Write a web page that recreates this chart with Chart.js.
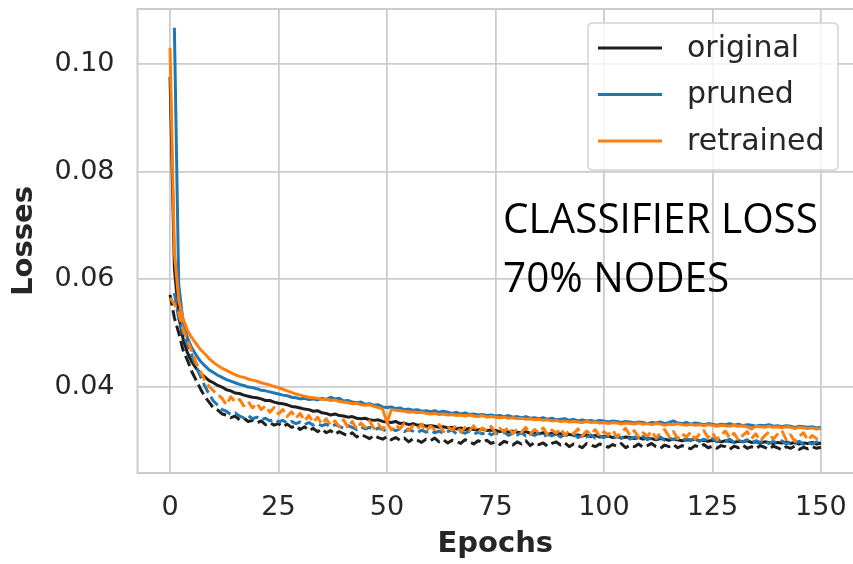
<!DOCTYPE html>
<html>
<head>
<meta charset="utf-8">
<title>Classifier loss, 70% nodes</title>
<script src="https://cdn.jsdelivr.net/npm/chart.js@4.4.1/dist/chart.umd.min.js"></script>
<style>
  html, body { margin: 0; padding: 0; background: #ffffff; }
  #wrap { position: relative; width: 853px; height: 564px; }
</style>
</head>
<body>
<div id="wrap"><canvas id="chart" width="853" height="564"></canvas></div>
<script>
// ---- data -------------------------------------------------------------
const epochs = Array.from({ length: 151 }, (_, i) => i);

const seriesNames = ['original', 'pruned', 'retrained'];
const seriesColors = ['#1f1f1f', '#1f77b4', '#ff7f0e'];

const xTicks = [0, 25, 50, 75, 100, 125, 150];
const yTicks = [0.04, 0.06, 0.08, 0.10];

const noteLines = ['CLASSIFIER LOSS', '70% NODES'];

// training loss (solid lines)
const originalTrain = [
  0.0977, 0.0620, 0.0531, 0.0489, 0.0463, 0.0446, 0.0434, 0.0425, 0.0418, 0.0411,
  0.0407, 0.0402, 0.0399, 0.0394, 0.0392, 0.0388, 0.0387, 0.0384, 0.0382, 0.0380,
  0.0379, 0.0377, 0.0374, 0.0374, 0.0371, 0.0369, 0.0368, 0.0366, 0.0363, 0.0362,
  0.0360, 0.0358, 0.0357, 0.0354, 0.0355, 0.0351, 0.0350, 0.0347, 0.0349, 0.0346,
  0.0345, 0.0343, 0.0344, 0.0341, 0.0340, 0.0341, 0.0338, 0.0337, 0.0338, 0.0335,
  0.0334, 0.0333, 0.0335, 0.0331, 0.0332, 0.0329, 0.0331, 0.0328, 0.0329, 0.0326,
  0.0327, 0.0326, 0.0324, 0.0325, 0.0323, 0.0324, 0.0321, 0.0323, 0.0320, 0.0322,
  0.0320, 0.0319, 0.0321, 0.0318, 0.0319, 0.0318, 0.0316, 0.0318, 0.0315, 0.0317,
  0.0315, 0.0314, 0.0316, 0.0313, 0.0314, 0.0312, 0.0314, 0.0311, 0.0313, 0.0311,
  0.0312, 0.0310, 0.0311, 0.0309, 0.0310, 0.0308, 0.0310, 0.0307, 0.0309, 0.0306,
  0.0307, 0.0308, 0.0305, 0.0307, 0.0304, 0.0306, 0.0305, 0.0303, 0.0305, 0.0302,
  0.0304, 0.0303, 0.0301, 0.0303, 0.0302, 0.0300, 0.0302, 0.0301, 0.0299, 0.0301,
  0.0300, 0.0302, 0.0299, 0.0300, 0.0298, 0.0300, 0.0299, 0.0297, 0.0299, 0.0298,
  0.0296, 0.0298, 0.0297, 0.0299, 0.0296, 0.0297, 0.0295, 0.0297, 0.0296, 0.0294,
  0.0296, 0.0295, 0.0297, 0.0294, 0.0296, 0.0293, 0.0295, 0.0294, 0.0296, 0.0293,
  0.0295
];

const prunedTrain = [
  null,   0.1068, 0.0590, 0.0521, 0.0491, 0.0472, 0.0459, 0.0447, 0.0439, 0.0431,
  0.0426, 0.0421, 0.0417, 0.0413, 0.0410, 0.0407, 0.0404, 0.0402, 0.0399, 0.0398,
  0.0396, 0.0393, 0.0392, 0.0390, 0.0388, 0.0386, 0.0384, 0.0383, 0.0380, 0.0379,
  0.0377, 0.0378, 0.0376, 0.0377, 0.0375, 0.0378, 0.0376, 0.0380, 0.0377, 0.0378,
  0.0373, 0.0374, 0.0371, 0.0370, 0.0371, 0.0367, 0.0368, 0.0365, 0.0366, 0.0362,
  0.0361, 0.0362, 0.0359, 0.0360, 0.0357, 0.0358, 0.0356, 0.0357, 0.0354, 0.0355,
  0.0353, 0.0355, 0.0352, 0.0354, 0.0352, 0.0350, 0.0352, 0.0349, 0.0351, 0.0348,
  0.0349, 0.0347, 0.0348, 0.0346, 0.0347, 0.0345, 0.0346, 0.0344, 0.0346, 0.0343,
  0.0344, 0.0342, 0.0344, 0.0341, 0.0342, 0.0340, 0.0342, 0.0339, 0.0341, 0.0338,
  0.0339, 0.0340, 0.0337, 0.0339, 0.0336, 0.0338, 0.0336, 0.0337, 0.0335, 0.0337,
  0.0336, 0.0334, 0.0336, 0.0335, 0.0333, 0.0335, 0.0334, 0.0332, 0.0334, 0.0333,
  0.0331, 0.0333, 0.0332, 0.0334, 0.0331, 0.0333, 0.0336, 0.0332, 0.0331, 0.0333,
  0.0330, 0.0332, 0.0331, 0.0329, 0.0331, 0.0330, 0.0328, 0.0330, 0.0329, 0.0331,
  0.0328, 0.0330, 0.0327, 0.0329, 0.0328, 0.0326, 0.0328, 0.0327, 0.0329, 0.0326,
  0.0327, 0.0325, 0.0327, 0.0326, 0.0324, 0.0326, 0.0325, 0.0324, 0.0325, 0.0323,
  0.0324
];

const retrainedTrain = [
  0.1031, 0.0650, 0.0561, 0.0526, 0.0505, 0.0491, 0.0480, 0.0469, 0.0461, 0.0452,
  0.0445, 0.0439, 0.0434, 0.0430, 0.0426, 0.0422, 0.0419, 0.0417, 0.0414, 0.0412,
  0.0410, 0.0407, 0.0405, 0.0403, 0.0400, 0.0398, 0.0395, 0.0392, 0.0389, 0.0386,
  0.0384, 0.0382, 0.0380, 0.0379, 0.0378, 0.0376, 0.0377, 0.0374, 0.0375, 0.0372,
  0.0371, 0.0370, 0.0368, 0.0369, 0.0366, 0.0365, 0.0366, 0.0363, 0.0361, 0.0358,
  0.0333, 0.0357, 0.0356, 0.0355, 0.0354, 0.0352, 0.0353, 0.0351, 0.0352, 0.0350,
  0.0349, 0.0350, 0.0348, 0.0349, 0.0347, 0.0348, 0.0346, 0.0347, 0.0345, 0.0347,
  0.0345, 0.0344, 0.0346, 0.0343, 0.0344, 0.0343, 0.0342, 0.0343, 0.0341, 0.0342,
  0.0340, 0.0341, 0.0339, 0.0340, 0.0338, 0.0339, 0.0337, 0.0338, 0.0336, 0.0337,
  0.0335, 0.0336, 0.0334, 0.0335, 0.0334, 0.0333, 0.0335, 0.0333, 0.0334, 0.0332,
  0.0333, 0.0331, 0.0333, 0.0332, 0.0330, 0.0332, 0.0331, 0.0330, 0.0332, 0.0330,
  0.0331, 0.0329, 0.0331, 0.0330, 0.0328, 0.0330, 0.0329, 0.0331, 0.0329, 0.0328,
  0.0330, 0.0328, 0.0329, 0.0327, 0.0329, 0.0328, 0.0326, 0.0328, 0.0327, 0.0326,
  0.0328, 0.0326, 0.0327, 0.0325, 0.0321, 0.0326, 0.0325, 0.0324, 0.0326, 0.0324,
  0.0325, 0.0323, 0.0325, 0.0324, 0.0322, 0.0324, 0.0323, 0.0322, 0.0323, 0.0321,
  0.0322
];

// validation loss (dashed lines)
const originalVal = [
  0.0571, 0.0528, 0.0500, 0.0468, 0.0449, 0.0428, 0.0412, 0.0396, 0.0381, 0.0371,
  0.0360, 0.0356, 0.0349, 0.0347, 0.0342, 0.0345, 0.0338, 0.0341, 0.0335, 0.0337,
  0.0332, 0.0336, 0.0329, 0.0333, 0.0328, 0.0331, 0.0325, 0.0330, 0.0324, 0.0327,
  0.0320, 0.0325, 0.0318, 0.0322, 0.0316, 0.0321, 0.0314, 0.0318, 0.0311, 0.0316,
  0.0312, 0.0308, 0.0314, 0.0306, 0.0311, 0.0307, 0.0303, 0.0309, 0.0305, 0.0302,
  0.0307, 0.0301, 0.0305, 0.0300, 0.0304, 0.0297, 0.0303, 0.0300, 0.0296, 0.0302,
  0.0299, 0.0304, 0.0297, 0.0301, 0.0295, 0.0300, 0.0298, 0.0294, 0.0301, 0.0297,
  0.0293, 0.0299, 0.0296, 0.0300, 0.0294, 0.0297, 0.0292, 0.0298, 0.0295, 0.0291,
  0.0297, 0.0293, 0.0299, 0.0290, 0.0296, 0.0292, 0.0295, 0.0289, 0.0294, 0.0297,
  0.0291, 0.0295, 0.0288, 0.0293, 0.0290, 0.0286, 0.0294, 0.0291, 0.0288, 0.0293,
  0.0290, 0.0287, 0.0292, 0.0289, 0.0294, 0.0286, 0.0291, 0.0288, 0.0293, 0.0287,
  0.0290, 0.0294, 0.0288, 0.0285, 0.0291, 0.0288, 0.0292, 0.0286, 0.0290, 0.0287,
  0.0284, 0.0290, 0.0287, 0.0292, 0.0286, 0.0289, 0.0285, 0.0290, 0.0288, 0.0283,
  0.0289, 0.0286, 0.0291, 0.0285, 0.0288, 0.0284, 0.0290, 0.0287, 0.0283, 0.0289,
  0.0286, 0.0282, 0.0288, 0.0285, 0.0289, 0.0283, 0.0287, 0.0284, 0.0288, 0.0285,
  0.0287
];

const prunedVal = [
  null,   0.0574, 0.0526, 0.0499, 0.0478, 0.0459, 0.0437, 0.0419, 0.0401, 0.0386,
  0.0373, 0.0365, 0.0357, 0.0354, 0.0348, 0.0351, 0.0345, 0.0342, 0.0346, 0.0340,
  0.0343, 0.0338, 0.0341, 0.0336, 0.0339, 0.0334, 0.0337, 0.0332, 0.0335, 0.0331,
  0.0334, 0.0329, 0.0333, 0.0328, 0.0331, 0.0327, 0.0330, 0.0325, 0.0329, 0.0326,
  0.0322, 0.0327, 0.0324, 0.0320, 0.0325, 0.0321, 0.0324, 0.0319, 0.0323, 0.0320,
  0.0317, 0.0322, 0.0318, 0.0321, 0.0316, 0.0320, 0.0317, 0.0314, 0.0319, 0.0315,
  0.0318, 0.0314, 0.0317, 0.0313, 0.0316, 0.0319, 0.0312, 0.0316, 0.0313, 0.0317,
  0.0311, 0.0315, 0.0312, 0.0316, 0.0310, 0.0314, 0.0311, 0.0315, 0.0309, 0.0313,
  0.0310, 0.0314, 0.0308, 0.0312, 0.0309, 0.0313, 0.0307, 0.0311, 0.0308, 0.0312,
  0.0306, 0.0310, 0.0307, 0.0311, 0.0305, 0.0309, 0.0306, 0.0310, 0.0304, 0.0308,
  0.0305, 0.0309, 0.0303, 0.0307, 0.0304, 0.0308, 0.0302, 0.0306, 0.0303, 0.0307,
  0.0301, 0.0305, 0.0302, 0.0306, 0.0300, 0.0304, 0.0301, 0.0305, 0.0299, 0.0303,
  0.0300, 0.0304, 0.0298, 0.0302, 0.0299, 0.0303, 0.0297, 0.0301, 0.0298, 0.0302,
  0.0296, 0.0300, 0.0297, 0.0301, 0.0295, 0.0299, 0.0296, 0.0300, 0.0294, 0.0298,
  0.0295, 0.0299, 0.0293, 0.0297, 0.0294, 0.0298, 0.0292, 0.0296, 0.0293, 0.0297,
  0.0295
];

const retrainedVal = [
  0.0565, 0.0554, 0.0537, 0.0506, 0.0487, 0.0465, 0.0445, 0.0428, 0.0412, 0.0400,
  0.0392, 0.0385, 0.0378, 0.0366, 0.0381, 0.0371, 0.0376, 0.0364, 0.0372, 0.0360,
  0.0369, 0.0357, 0.0364, 0.0352, 0.0361, 0.0349, 0.0357, 0.0344, 0.0353, 0.0341,
  0.0350, 0.0336, 0.0346, 0.0333, 0.0343, 0.0330, 0.0340, 0.0328, 0.0336, 0.0325,
  0.0338, 0.0323, 0.0335, 0.0321, 0.0332, 0.0324, 0.0336, 0.0322, 0.0330, 0.0320,
  0.0333, 0.0319, 0.0328, 0.0322, 0.0331, 0.0318, 0.0327, 0.0321, 0.0330, 0.0317,
  0.0326, 0.0320, 0.0329, 0.0316, 0.0325, 0.0319, 0.0328, 0.0315, 0.0324, 0.0318,
  0.0327, 0.0314, 0.0323, 0.0317, 0.0326, 0.0313, 0.0322, 0.0316, 0.0325, 0.0312,
  0.0321, 0.0315, 0.0324, 0.0311, 0.0320, 0.0314, 0.0323, 0.0310, 0.0319, 0.0313,
  0.0322, 0.0309, 0.0318, 0.0312, 0.0321, 0.0308, 0.0317, 0.0311, 0.0320, 0.0307,
  0.0316, 0.0310, 0.0319, 0.0306, 0.0315, 0.0322, 0.0309, 0.0318, 0.0305, 0.0314,
  0.0308, 0.0317, 0.0304, 0.0313, 0.0320, 0.0307, 0.0316, 0.0303, 0.0312, 0.0306,
  0.0315, 0.0302, 0.0311, 0.0318, 0.0305, 0.0314, 0.0301, 0.0310, 0.0317, 0.0304,
  0.0313, 0.0300, 0.0309, 0.0316, 0.0303, 0.0312, 0.0299, 0.0308, 0.0315, 0.0302,
  0.0311, 0.0318, 0.0301, 0.0310, 0.0298, 0.0307, 0.0314, 0.0300, 0.0309, 0.0303,
  0.0312
];

// ---- drawing ----------------------------------------------------------
const TEXT = '#262626';
const GRID = '#cccccc';
const LINE_W = 3;
const DASH = [11, 4.8];

const toPoints = arr => arr.map((v, i) => ({ x: epochs[i], y: v }));

function lineSet(label, values, color, dashed, order) {
  return {
    label,
    data: toPoints(values),
    borderColor: color,
    backgroundColor: color,
    borderWidth: LINE_W,
    borderDash: dashed ? DASH : [],
    borderJoinStyle: 'round',
    pointRadius: 0,
    pointHoverRadius: 0,
    tension: 0,
    fill: false,
    order
  };
}

// frame around the plotting area
const frameBox = {
  id: 'frameBox',
  beforeDatasetsDraw(chart) {
    const { ctx, chartArea: a } = chart;
    ctx.save();
    ctx.strokeStyle = GRID;
    ctx.lineWidth = 2;
    ctx.strokeRect(a.left, a.top, a.right - a.left + 6, a.bottom - a.top);
    ctx.restore();
  }
};

// legend box in the upper right corner and the caption text
const insetLegend = {
  id: 'insetLegend',
  afterDatasetsDraw(chart) {
    const { ctx, chartArea: a } = chart;
    ctx.save();

    const bx = a.right - 265, by = a.top + 14, bw = 250, bh = 147, r = 5;
    ctx.beginPath();
    ctx.moveTo(bx + r, by);
    ctx.lineTo(bx + bw - r, by);
    ctx.quadraticCurveTo(bx + bw, by, bx + bw, by + r);
    ctx.lineTo(bx + bw, by + bh - r);
    ctx.quadraticCurveTo(bx + bw, by + bh, bx + bw - r, by + bh);
    ctx.lineTo(bx + r, by + bh);
    ctx.quadraticCurveTo(bx, by + bh, bx, by + bh - r);
    ctx.lineTo(bx, by + r);
    ctx.quadraticCurveTo(bx, by, bx + r, by);
    ctx.closePath();
    ctx.fillStyle = 'rgba(255,255,255,0.8)';
    ctx.fill();
    ctx.strokeStyle = '#d4d4d4';
    ctx.lineWidth = 1.5;
    ctx.stroke();

    ctx.font = '30px "DejaVu Sans"';
    ctx.textBaseline = 'middle';
    ctx.textAlign = 'left';
    seriesNames.forEach((name, i) => {
      const ly = by + 25 + i * 46.5;
      ctx.beginPath();
      ctx.moveTo(bx + 10, ly);
      ctx.lineTo(bx + 74, ly);
      ctx.strokeStyle = seriesColors[i];
      ctx.lineWidth = LINE_W;
      ctx.stroke();
      ctx.fillStyle = TEXT;
      ctx.fillText(name, bx + 99, ly + 1);
    });

    // caption
    ctx.font = '42px "Open Sans"';
    ctx.fillStyle = '#000000';
    ctx.textBaseline = 'alphabetic';
    const w0 = ctx.measureText(noteLines[0]).width;
    const sx = 315 / w0;
    const tx = a.left + 365.5;
    noteLines.forEach((line, i) => {
      ctx.save();
      ctx.translate(tx, 233 + i * 59);
      ctx.scale(sx, 1);
      ctx.fillText(line, 0, 0);
      ctx.restore();
    });
    ctx.restore();
  }
};

new Chart(document.getElementById('chart'), {
  type: 'line',
  data: {
    datasets: [
      lineSet(seriesNames[0], originalTrain, seriesColors[0], false, 5),
      lineSet(seriesNames[0] + ' (val)', originalVal, seriesColors[0], true, 4),
      lineSet(seriesNames[1], prunedTrain, seriesColors[1], false, 3),
      lineSet(seriesNames[1] + ' (val)', prunedVal, seriesColors[1], true, 2),
      lineSet(seriesNames[2], retrainedTrain, seriesColors[2], false, 1),
      lineSet(seriesNames[2] + ' (val)', retrainedVal, seriesColors[2], true, 0)
    ]
  },
  options: {
    responsive: false,
    animation: false,
    devicePixelRatio: 1,
    layout: { autoPadding: false, padding: { top: 9, left: 0, right: 0, bottom: 0 } },
    plugins: { legend: { display: false }, tooltip: { enabled: false } },
    scales: {
      x: {
        type: 'linear',
        min: -7.5,
        max: 157.4,
        afterBuildTicks: s => { s.ticks = xTicks.map(v => ({ value: v })); },
        afterFit: s => { s.height = 91; s.paddingLeft = 0; s.paddingRight = 0; },
        grid: { color: GRID, lineWidth: 1.8, drawTicks: false },
        border: { display: false },
        ticks: {
          color: TEXT,
          padding: 19,
          maxRotation: 0,
          font: { family: 'DejaVu Sans', size: 27 },
          callback: v => String(v)
        },
        title: {
          display: true,
          text: 'Epochs',
          color: TEXT,
          font: { family: 'DejaVu Sans', size: 29, weight: 'bold' },
          padding: { top: 0, bottom: 2 }
        }
      },
      y: {
        type: 'linear',
        min: 0.0239,
        max: 0.1103,
        afterBuildTicks: s => { s.ticks = yTicks.map(v => ({ value: v })); },
        afterFit: s => { s.width = 137.5; s.paddingTop = 0; s.paddingBottom = 0; },
        grid: { color: GRID, lineWidth: 1.8, drawTicks: false },
        border: { display: false },
        ticks: {
          color: TEXT,
          padding: 23,
          font: { family: 'DejaVu Sans', size: 27 },
          callback: v => v.toFixed(2)
        },
        title: {
          display: true,
          text: 'Losses',
          color: TEXT,
          font: { family: 'DejaVu Sans', size: 29, weight: 'bold' },
          padding: { top: 7, bottom: 0 }
        }
      }
    }
  },
  plugins: [frameBox, insetLegend]
});
</script>
</body>
</html>
